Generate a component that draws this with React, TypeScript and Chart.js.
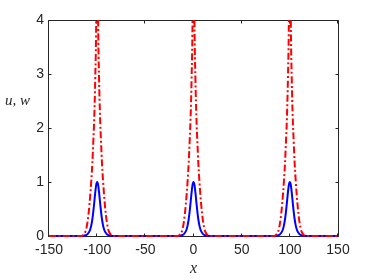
import React, { useEffect, useRef } from "react";
import { Chart, registerables } from "chart.js";
Chart.register(...registerables);

// peak centres along x
const peakCenters = [-100, 0, 100];
// blue solid curve u: one peak profile (offset from centre -> value)
const uOffsets = [-15, -12, -10, -8, -7, -6, -5, -4, -3, -2, -1, 0, 1, 2, 3, 4, 5, 6, 7, 8, 10, 12, 15];
const uValues = [0, 0.013, 0.034, 0.085, 0.134, 0.206, 0.31, 0.451, 0.623, 0.803, 0.946, 1.0, 0.946, 0.803, 0.623, 0.451, 0.31, 0.206, 0.134, 0.085, 0.034, 0.013, 0];
// red dash-dot curve w: one peak profile (clipped above 4)
const wOffsets = [-16, -14, -12, -11, -10, -9, -8, -7, -6, -5, -4, -3, -2, -1, 0, 1, 2, 3, 4, 5, 6, 7, 8, 9, 10, 11, 12, 14, 16];
const wValues = [0, 0.03, 0.09, 0.16, 0.26, 0.4, 0.58, 0.8, 1.05, 1.35, 1.75, 2.2, 2.9, 4.0, 7.0, 4.0, 2.9, 2.2, 1.75, 1.35, 1.05, 0.8, 0.58, 0.4, 0.26, 0.16, 0.09, 0.03, 0];

const xRange = [-150, 150];
const yRange = [0, 4];
const xTicks = [-150, -100, -50, 0, 50, 100, 150];
const yTicks = [0, 1, 2, 3, 4];
const xLabel = "x";
const yLabel = "u, w";

function buildSeries(offsets: number[], values: number[]) {
  const pts: { x: number; y: number }[] = [{ x: xRange[0], y: 0 }];
  peakCenters.forEach((c) => {
    offsets.forEach((o, i) => pts.push({ x: c + o, y: values[i] }));
  });
  pts.push({ x: xRange[1], y: 0 });
  return pts;
}

const AXIS_COLOR = "#262626";

const framePlugin = {
  id: "frame",
  beforeDatasetsDraw(chart: any) {
    const { ctx, chartArea: a, scales } = chart;
    ctx.save();
    ctx.strokeStyle = AXIS_COLOR;
    ctx.lineWidth = 1;
    const L = a.left - 0.5, R = a.right + 0.5, T = a.top + 0.5, B = a.bottom + 0.5;
    ctx.beginPath();
    ctx.moveTo(L, T); ctx.lineTo(R, T); ctx.lineTo(R, B); ctx.lineTo(L, B); ctx.closePath();
    ctx.stroke();
    const tl = 3;
    ctx.beginPath();
    xTicks.forEach((t) => {
      const px = Math.round(scales.x.getPixelForValue(t)) - 0.5;
      ctx.moveTo(px, B); ctx.lineTo(px, B - tl);
      ctx.moveTo(px, T); ctx.lineTo(px, T + tl);
    });
    yTicks.forEach((t) => {
      const py = Math.round(scales.y.getPixelForValue(t)) + 0.5;
      ctx.moveTo(L, py); ctx.lineTo(L + tl, py);
      ctx.moveTo(R, py); ctx.lineTo(R - tl, py);
    });
    ctx.stroke();
    ctx.restore();
  },
  afterDraw(chart: any) {
    const { ctx, chartArea: a } = chart;
    ctx.save();
    ctx.fillStyle = AXIS_COLOR;
    ctx.font = 'italic 15px "Liberation Serif", serif';
    ctx.textAlign = "center";
    ctx.textBaseline = "middle";
    ctx.fillText(yLabel, 17.5, 101);
    ctx.font = 'italic 16px "Liberation Serif", serif';
    ctx.fillText(xLabel, (a.left + a.right) / 2, 269);
    ctx.restore();
  },
};

export default function App() {
  const ref = useRef<HTMLCanvasElement>(null);
  useEffect(() => {
    const tickFont = { family: '"Liberation Sans", Arial, sans-serif', size: 14 };
    const chart = new Chart(ref.current!, {
      type: "line",
      data: {
        datasets: [
          {
            label: "w",
            data: buildSeries(wOffsets, wValues),
            borderColor: "#FF0000",
            borderWidth: 2,
            borderDash: [7, 2.5, 2, 2.5],
            pointRadius: 0,
            fill: false,
            cubicInterpolationMode: "monotone",
            clip: { left: 2, right: 2, top: 0, bottom: 2 } as any,
          },
          {
            label: "u",
            data: buildSeries(uOffsets, uValues),
            borderColor: "#0000FF",
            borderWidth: 2,
            pointRadius: 0,
            fill: false,
            cubicInterpolationMode: "monotone",
            clip: { left: 2, right: 2, top: 0, bottom: 2 } as any,
          },
        ],
      },
      options: {
        animation: false,
        responsive: false,
        maintainAspectRatio: false,
        devicePixelRatio: 1,
        parsing: false as any,
        normalized: true,
        layout: { padding: { left: 0, right: 36, top: 20, bottom: 0 } },
        plugins: { legend: { display: false }, tooltip: { enabled: false } },
        scales: {
          x: {
            type: "linear",
            min: xRange[0],
            max: xRange[1],
            grid: { display: false, drawTicks: false },
            border: { display: false },
            ticks: { font: tickFont, color: AXIS_COLOR, padding: 6, maxRotation: 0, autoSkip: false },
            afterBuildTicks: (s: any) => { s.ticks = xTicks.map((v) => ({ value: v })); },
            afterFit: (s: any) => { s.height = 44; },
          },
          y: {
            type: "linear",
            min: yRange[0],
            max: yRange[1],
            grid: { display: false, drawTicks: false },
            border: { display: false },
            ticks: { font: tickFont, color: AXIS_COLOR, padding: 5, autoSkip: false },
            afterBuildTicks: (s: any) => { s.ticks = yTicks.map((v) => ({ value: v })); },
            afterFit: (s: any) => { s.width = 49; },
          },
        },
      },
      plugins: [framePlugin],
    });
    return () => chart.destroy();
  }, []);
  return (
    <div style={{ position: "absolute", left: 0, top: 0, width: 374, height: 280, background: "#fff" }}>
      <canvas ref={ref} width={374} height={280} style={{ display: "block", width: 374, height: 280 }} />
    </div>
  );
}
